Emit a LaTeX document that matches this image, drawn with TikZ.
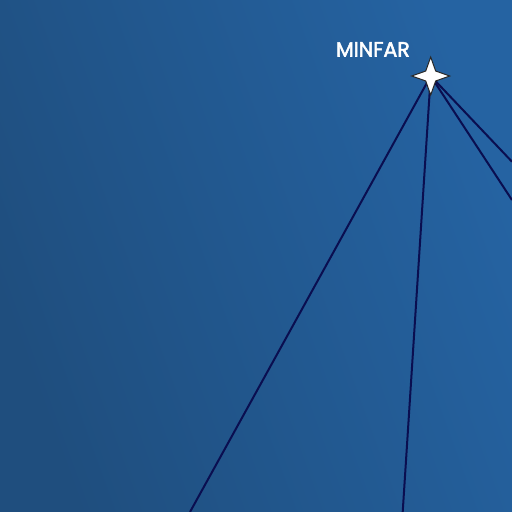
\documentclass[tikz,border=0pt]{standalone}
\usepackage{fontspec}
\setmainfont{Poppins}
\newfontfamily\placefont{Poppins}[FakeBold=2.5]
\usetikzlibrary{shapes.geometric, positioning}
\usepackage{xcolor}
\definecolor{bgdark}{RGB}{31,78,126}
\definecolor{bglight}{RGB}{37,99,162}
\definecolor{linknavy}{RGB}{10,14,80}
\definecolor{starrim}{RGB}{40,40,40}
\begin{document}
\begin{tikzpicture}[
        x=1pt, y=-1pt,
        starnode/.style={star, star points=4, star point ratio=2.7, minimum size=38pt, inner sep=0pt, fill=white, draw=starrim, line width=1pt},
        placelabel/.style={text=white, font=\placefont\fontsize{20.5}{20.5}\selectfont, inner sep=0pt},
        linkline/.style={draw=linknavy, line width=2pt}
    ]
        % Background
        \useasboundingbox (0, 0) rectangle (512, 512);
        \clip (0, 0) rectangle (512, 512);
        \shade[left color=bgdark, right color=bglight, shading angle=110] (0, 0) rectangle (512, 512);
        % Ends
        \coordinate (minfarpos) at (430.7, 76);
        \coordinate (endsw) at (190, 512);
        \coordinate (ends) at (402.7, 512);
        \coordinate (endeup) at (512, 161.7);
        \coordinate (endelow) at (512, 200);
        % Lines
        \foreach \e in {endsw, ends, endeup, endelow} {
            \draw[linkline] (minfarpos) -- (\e);
        }
        % Star
        \node[starnode] (minfar) at (minfarpos) {};
        \node[placelabel, anchor=base east] (minfartext) at (410, 56.5) {MINFAR};
    \end{tikzpicture}
\end{document}
